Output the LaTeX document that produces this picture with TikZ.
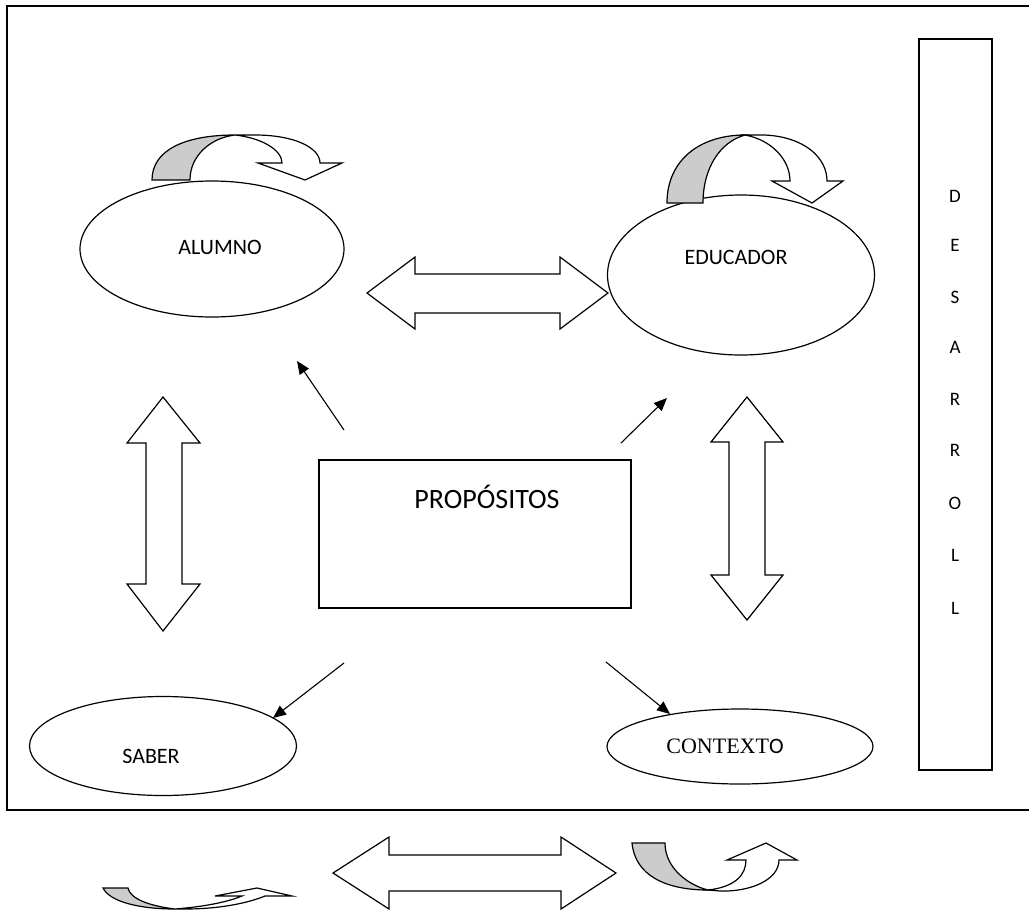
\documentclass[tikz,border=0pt]{standalone}
\usepackage{fontspec}
\setmainfont{Carlito}
\newfontfamily\tnr{Liberation Serif}
\usetikzlibrary{shapes.geometric,arrows.meta}
\begin{document}
\begin{tikzpicture}[x=1pt,y=-1pt,
  frame/.style={line width=1.6pt},
  shp/.style={draw, line width=1.2pt, line join=miter},
  ell/.style={draw, ellipse, line width=1.2pt, inner sep=0pt},
  lbl/.style={inner sep=0pt, font=\fontsize{22}{25}\selectfont},
  vlet/.style={inner sep=0pt, font=\fontsize{19}{22}\selectfont},
  sm/.style={line width=1.1pt, -{Triangle[length=13pt,width=11pt]}},
  grayfill/.style={shp, fill=black!20},
  whitefill/.style={shp, fill=white}]
\useasboundingbox (0,0) rectangle (1029,914);
% outer frame
\draw[frame] (1029,6) -- (7,6) -- (7,810) -- (1029,810);
% DESARROLL box
\node[draw, line width=1.4pt, minimum width=73pt, minimum height=731pt, inner sep=0pt] (des) at (955.5,404.5) {};
\foreach \l/\y [count=\i] in {D/196,E/245,S/297,A/347,R/399,R/450,O/503,L/555,L/608}
  \node[vlet] (d\i) at (955,\y) {\l};
% ellipses
\node[ell, minimum width=264pt, minimum height=136pt] (alumno) at (212,249) {};
\node[lbl] (talumno) at (220,247) {ALUMNO};
\node[ell, minimum width=267pt, minimum height=160pt] (educador) at (741,275) {};
\node[lbl] (teducador) at (736,257) {EDUCADOR};
\node[ell, minimum width=267pt, minimum height=99pt] (saber) at (163,746) {};
\node[lbl] (tsaber) at (151,756) {SABER};
\node[ell, minimum width=266pt, minimum height=75pt] (contexto) at (740,746.5) {};
\node[lbl] (tcontexto) at (725,746) {{\tnr CONTEXT}O};
% propositos
\node[draw, line width=1.2pt, minimum width=312pt, minimum height=148pt, inner sep=0pt] (prop) at (475,534) {};
\node[inner sep=0pt, font=\fontsize{28}{32}\selectfont] (tprop) at (487,497) {PROPÓSITOS};
% small arrows
\coordinate (a1s) at (344,430); \coordinate (a1e) at (297,361);
\coordinate (a2s) at (621,443); \coordinate (a2e) at (667,398);
\coordinate (a3s) at (344,663); \coordinate (a3e) at (273,718);
\coordinate (a4s) at (606,662); \coordinate (a4e) at (670,714);
\draw[sm] (a1s) -- (a1e);
\draw[sm] (a2s) -- (a2e);
\draw[sm] (a3s) -- (a3e);
\draw[sm] (a4s) -- (a4e);
% horizontal double arrow (top)
\draw[shp] (367,293) -- (415,257) -- (415,274) -- (560,274) -- (560,257) -- (608,293)
  -- (560,329) -- (560,313) -- (415,313) -- (415,329) -- cycle;
% bottom horizontal double arrow
\draw[shp] (333,873) -- (389,837) -- (389,855) -- (561,855) -- (561,837) -- (616,873)
  -- (561,909) -- (561,891) -- (389,891) -- (389,909) -- cycle;
% left vertical double arrow
\draw[shp] (163,397) -- (200,443) -- (182,443) -- (182,584) -- (200,584) -- (163,631)
  -- (127,584) -- (146,584) -- (146,443) -- (127,443) -- cycle;
% right vertical double arrow
\draw[shp] (747,397) -- (783,442) -- (765,442) -- (765,575) -- (783,575) -- (747,620)
  -- (711,575) -- (729,575) -- (729,442) -- (711,442) -- cycle;
% curved arrow top-left
\draw[grayfill] (152,180) .. controls (152,150) and (185,135) .. (235,135)
  .. controls (210,138) and (190,156) .. (190,180) -- cycle;
\draw[whitefill] (235,135) -- (255,135) .. controls (295,135) and (320,148) .. (320,163)
  -- (342,163) -- (305,180) -- (258,163) -- (282,163)
  .. controls (282,150) and (262,138) .. (235,135) -- cycle;
% curved arrow top-right
\draw[grayfill] (667,203) .. controls (667,160) and (700,135) .. (745,135)
  .. controls (720,142) and (703,168) .. (703,203) -- cycle;
\draw[whitefill] (745,135) -- (765,135) .. controls (805,137) and (827,158) .. (827,181)
  -- (843,181) -- (812,203) -- (772,181) -- (790,181)
  .. controls (790,160) and (772,140) .. (745,135) -- cycle;
% curved arrow bottom-left
\draw[grayfill] (103,888) .. controls (110,902) and (140,909) .. (175,909)
  .. controls (150,906) and (130,899) .. (128,888) -- cycle;
\draw[whitefill] (175,909) -- (185,909) .. controls (220,909) and (248,903) .. (265,896)
  -- (292,896) -- (257,888) -- (215,896) -- (242,896)
  .. controls (225,903) and (200,907) .. (175,909) -- cycle;
% curved arrow bottom-right
\draw[grayfill] (632,843) .. controls (635,875) and (665,890) .. (708,890)
  .. controls (688,885) and (665,868) .. (665,843) -- cycle;
\draw[whitefill] (708,890) .. controls (735,887) and (746,875) .. (746,860)
  -- (727,860) -- (766,843) -- (797,860) -- (779,860)
  .. controls (779,880) and (750,892) .. (720,891) -- cycle;
\end{tikzpicture}
\end{document}
